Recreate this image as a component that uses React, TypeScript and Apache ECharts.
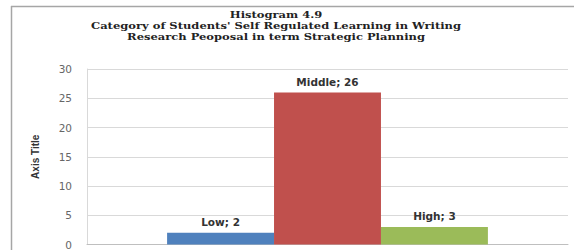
import React, { useEffect, useRef } from "react";
import * as echarts from "echarts";

const categories = ["Strategic Planning"];
const seriesNames = ["Low", "Middle", "High"];
const seriesValues = [2, 26, 3];
const seriesColors = ["#4F81BD", "#C0504D", "#9BBB59"];
const titleLines = [
  "Histogram 4.9",
  "Category of Students' Self Regulated Learning in Writing",
  "Research Peoposal in term Strategic Planning",
];
const yTicks = { min: 0, max: 30, interval: 5 };

export default function App() {
  const ref = useRef<HTMLDivElement>(null);
  useEffect(() => {
    if (!ref.current) return;
    const chart = echarts.init(ref.current, null, { renderer: "svg" });
    const series = seriesNames.map((name, i) => ({
      name,
      type: "bar",
      data: [seriesValues[i]],
      barGap: "0%",
      barCategoryGap: "33.3%",
      itemStyle: { color: seriesColors[i] },
      label: {
        show: true,
        position: "top",
        distance: 5,
        formatter: "{a}; {c}",
        fontFamily: "DejaVu Sans",
        fontWeight: "bold",
        fontSize: 10.5,
        color: "#333333",
      },
    }));
    chart.setOption({
      animation: false,
      backgroundColor: "#ffffff",
      grid: { left: 87, right: 6, top: 69, bottom: 5, containLabel: false },
      xAxis: {
        type: "category",
        data: categories,
        axisLabel: { show: false },
        axisTick: { show: false },
        axisLine: { show: true, lineStyle: { color: "#bfbfbf", width: 1 } },
      },
      yAxis: {
        type: "value",
        min: yTicks.min,
        max: yTicks.max,
        interval: yTicks.interval,
        name: "Axis Title",
        nameLocation: "middle",
        nameGap: 47,
        nameRotate: 90,
        nameTextStyle: {
          fontFamily: "Liberation Sans",
          fontWeight: "bold",
          fontSize: 10,
          color: "#333333",
        },
        axisLine: { show: true, lineStyle: { color: "#d9d9d9" } },
        axisTick: { show: false },
        axisLabel: {
          fontFamily: "DejaVu Sans",
          fontSize: 10.5,
          color: "#666666",
          margin: 15,
        },
        splitLine: { lineStyle: { color: "#d9d9d9", width: 1 } },
      },
      series,
      graphic: [
        {
          type: "text",
          x: 238,
          y: -16,
          style: {
            text: "Strategic Planning",
            fontFamily: "Liberation Sans",
            fontWeight: "bold",
            fontSize: 29,
            fill: "#000000",
            verticalAlign: "middle",
          },
          silent: true,
        },
        {
          type: "line",
          shape: { x1: 11, y1: 6.5, x2: 574, y2: 6.5 },
          style: { stroke: "#a6a6a6", lineWidth: 1.5 },
        },
        {
          type: "line",
          shape: { x1: 11.5, y1: 6, x2: 11.5, y2: 250 },
          style: { stroke: "#a6a6a6", lineWidth: 1.5 },
        },
        ...titleLines.map((t, i) => ({
          type: "text",
          x: 276,
          y: 15 + i * 10.7,
          scaleX: 1.28,
          style: {
            text: t,
            fontFamily: "DejaVu Serif",
            fontWeight: "bold",
            fontSize: 9,
            fill: "#222222",
            align: "center",
            verticalAlign: "middle",
          },
        })),
      ],
    });
    return () => chart.dispose();
  }, []);
  return (
    <div
      ref={ref}
      style={{ position: "fixed", left: 0, top: 0, width: 574, height: 250 }}
    />
  );
}
